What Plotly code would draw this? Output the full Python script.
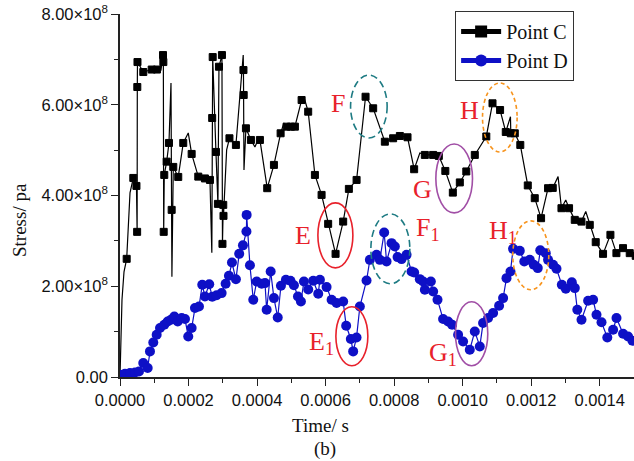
import plotly.graph_objects as go

# Point C: time (microseconds), stress (MPa); flag = 1 where a symbol is drawn
c_time_us = [0, 5.8, 11.7, 19.5, 29.2, 38.8, 48.0, 50.0, 50.5, 51.0,
             68.0, 92.5, 107.9, 119.6, 125.5, 126.5, 127.5, 129.2, 136.2, 142.9,
             148.8, 150.8, 151.5, 155.5, 170.0, 184.6, 199.2, 209.1, 228.4, 247.9,
             262.5, 268.0, 269.0, 270.5, 280.0, 285.8, 288.8, 297.5, 299.0, 301.3,
             302.0, 311.2, 319.4, 338.3, 359.6, 360.3, 361.0, 361.8, 367.5, 382.1,
             393.8, 402.5, 408.3, 429.6, 449.2, 468.7, 478.3, 486.2, 498.8, 510.4,
             530.0, 536.7, 549.2, 568.8, 588.3, 607.5, 629.1, 651.3, 667.9, 690.4,
             716.6, 738.8, 772.9, 797.1, 816.7, 839.1, 858.4, 875.0, 889.6, 913.8,
             930.4, 949.4, 971.3, 991.7, 1010.6, 1035.4, 1069.0, 1087.1, 1109.2, 1125.8,
             1139.5, 1140.5, 1152.1, 1168.2, 1190.0, 1210.4, 1228.8, 1249.2, 1262.9, 1278.4,
             1288.3, 1300.8, 1310.5, 1327.1, 1346.6, 1359.2, 1370.9, 1388.3, 1409.7, 1431.2,
             1448.7, 1468.0, 1487.5, 1505.0]
c_stress_mpa = [0, 170.2, 231.8, 260.4, 405.7, 438.7, 421.1, 319.9, 639.1, 694.1,
                672.1, 677.6, 677.6, 676.5, 709.5, 694.1, 319.9, 445.3, 474.6, 515.8,
                647.9, 368.3, 220.8, 463.0, 440.9, 515.8, 537.8, 491.6, 441.6, 437.6,
                434.3, 273.6, 570.8, 705.1, 496.0, 381.5, 683.8, 709.5, 293.4, 379.3,
                355.1, 500.4, 526.1, 511.4, 709.5, 676.5, 621.5, 456.3, 548.1, 522.4,
                507.0, 522.4, 522.4, 416.1, 467.4, 537.1, 559.8, 551.7, 551.7, 551.7,
                610.4, 617.1, 584.7, 445.3, 401.3, 337.5, 271.4, 342.5, 414.5, 434.3,
                617.7, 592.2, 518.6, 526.1, 531.2, 528.3, 457.9, 493.8, 489.4, 489.4,
                487.2, 454.1, 406.4, 428.8, 453.0, 489.4, 530.1, 603.2, 588.4, 540.0,
                573.7, 537.1, 537.1, 511.4, 422.2, 394.1, 350.0, 416.1, 416.7, 441.6,
                372.0, 390.3, 372.0, 346.3, 342.5, 364.6, 335.3, 297.2, 271.4, 313.3,
                273.0, 284.0, 273.0, 267.0]
c_marked = [0, 0, 0, 1, 0, 1, 1, 1, 1, 1,
            1, 1, 1, 0, 1, 1, 1, 1, 1, 1,
            0, 1, 0, 1, 1, 1, 0, 1, 1, 1,
            1, 0, 1, 1, 1, 1, 1, 1, 1, 1,
            1, 0, 1, 1, 0, 1, 1, 0, 1, 1,
            0, 0, 1, 1, 1, 1, 0, 1, 1, 1,
            1, 0, 1, 1, 1, 1, 1, 1, 1, 1,
            1, 1, 1, 1, 1, 1, 1, 0, 1, 1,
            1, 1, 1, 1, 1, 1, 1, 1, 1, 1,
            0, 1, 1, 1, 1, 1, 1, 1, 1, 0,
            1, 0, 1, 1, 1, 0, 1, 1, 1, 1,
            1, 1, 1, 1]

# Point D: time (microseconds), stress (MPa)
d_time_us = [0, 14.6, 29.2, 43.8, 55.4, 67.9, 80.8, 87.5, 97.1, 107.0,
             116.7, 129.2, 139.1, 148.8, 158.5, 168.4, 180.1, 189.6, 199.2, 209.1,
             218.8, 230.5, 240.1, 247.9, 260.4, 269.2, 282.0, 296.6, 308.3, 317.9,
             326.7, 338.3, 347.9, 358.8, 369.0, 369.6, 379.2, 388.9, 398.8, 413.4,
             423.1, 428.0, 439.7, 449.2, 460.3, 469.7, 484.2, 497.4, 507.6, 519.3,
             528.0, 536.8, 549.3, 563.9, 578.5, 583.4, 602.9, 617.5, 632.1, 651.3,
             660.0, 673.7, 680.4, 690.3, 700.0, 719.5, 729.2, 748.7, 758.3, 770.9,
             777.9, 792.5, 802.1, 810.0, 821.7, 836.3, 850.8, 858.4, 875.0, 884.6,
             889.6, 907.1, 913.8, 926.6, 942.9, 957.5, 969.2, 986.7, 1001.2, 1020.8,
             1035.4, 1050.0, 1059.6, 1074.2, 1088.8, 1106.3, 1118.0, 1127.9, 1139.5, 1147.1,
             1166.7, 1179.8, 1195.9, 1207.5, 1219.2, 1226.5, 1242.5, 1249.2, 1263.8, 1273.8,
             1289.4, 1301.0, 1318.5, 1327.3, 1334.6, 1346.8, 1366.1, 1380.7, 1390.6, 1405.2,
             1422.1, 1439.0, 1448.9, 1468.1, 1482.7, 1495.5]
d_stress_mpa = [5.1, 7.3, 8.8, 10.1, 12.3, 30.8, 19.8, 56.4, 76.2, 93.1,
                107.9, 115.1, 122.4, 126.1, 133.4, 122.4, 129.9, 127.7, 89.4, 107.9,
                151.9, 155.4, 203.2, 177.5, 204.3, 176.8, 180.1, 184.9, 205.4, 223.0,
                252.3, 215.3, 271.4, 290.1, 320.5, 357.3, 246.1, 170.2, 210.5, 205.4,
                206.9, 148.2, 232.5, 173.9, 131.0, 201.0, 214.2, 212.0, 202.1, 177.4,
                166.4, 210.5, 192.8, 212.0, 183.4, 214.2, 198.1, 170.2, 162.9, 166.4,
                112.9, 83.7, 56.4, 87.2, 155.4, 212.7, 258.2, 269.2, 258.2, 318.3,
                254.5, 295.0, 287.5, 264.2, 259.8, 269.2, 232.5, 230.3, 215.7, 210.5,
                192.2, 210.5, 188.4, 170.2, 127.7, 122.4, 115.1, 93.1, 78.4, 60.1,
                100.4, 67.4, 118.9, 129.9, 140.9, 157.0, 173.9, 217.9, 232.5, 282.4,
                278.0, 254.5, 258.2, 247.2, 240.0, 279.1, 273.0, 258.2, 247.2, 238.4,
                203.2, 194.4, 208.7, 195.9, 148.2, 126.1, 168.0, 170.2, 137.1, 120.6,
                87.2, 104.1, 129.9, 95.3, 89.4, 79.9]

x_tick_vals = [0, 0.0002, 0.0004, 0.0006, 0.0008, 0.0010, 0.0012, 0.0014]
x_tick_text = ["0.0000", "0.0002", "0.0004", "0.0006", "0.0008", "0.0010", "0.0012", "0.0014"]
y_tick_vals = [0, 2e8, 4e8, 6e8, 8e8]
y_tick_text = ["0.00", "2.00×10<sup>8</sup>", "4.00×10<sup>8</sup>",
               "6.00×10<sup>8</sup>", "8.00×10<sup>8</sup>"]

# Highlighted regions: label, label position, ellipse bounds (µs, MPa), colour, dash
regions = [
    ("E", 534.6, 311.1, "center", (577.5, 679.6, 240.6, 383.7), "#e8212b", "solid"),
    ("F", 637.3, 602.7, "center", (672.9, 779.6, 526.8, 665.5), "#1e7b83", "7px,4px"),
    ("G", 883.8, 412.3, "center", (921.7, 1028.7, 361.7, 513.6), "#a14fa6", "solid"),
    ("H", 1020.8, 588.4, "center", (1057.9, 1158.9, 496.0, 647.9), "#f7941e", "4px,3px"),
    ("E<sub>1</sub>", 546.0, 75.5, "left", (630.0, 723.3, 24.9, 154.8), "#e8212b", "solid"),
    ("F<sub>1</sub>", 858.0, 325.4, "left", (732.1, 845.8, 205.4, 359.5), "#1e7b83", "7px,4px"),
    ("G<sub>1</sub>", 896.0, 51.3, "left", (979.1, 1073.3, 24.9, 165.8), "#a14fa6", "solid"),
    ("H<sub>1</sub>", 1071.0, 319.9, "left", (1146.3, 1251.3, 192.2, 344.1), "#f7941e", "4px,3px"),
]

US = 1e-6
MPA = 1e6
c_x = [t * US for t in c_time_us]
c_y = [s * MPA for s in c_stress_mpa]
d_x = [t * US for t in d_time_us]
d_y = [s * MPA for s in d_stress_mpa]

BLUE = "#0e10c6"
serif = "Liberation Serif"
sans = "Liberation Sans"

fig = go.Figure()
fig.add_trace(go.Scatter(
    x=c_x, y=c_y, mode="lines+markers", showlegend=False,
    line=dict(color="black", width=1.2),
    marker=dict(symbol="square", color="black", opacity=1,
                size=[7 if m else 0 for m in c_marked],
                line=dict(width=[1 if m else 0 for m in c_marked], color="black")),
))
fig.add_trace(go.Scatter(
    x=d_x, y=d_y, mode="lines+markers", showlegend=False,
    line=dict(color=BLUE, width=1.2),
    marker=dict(symbol="circle", color=BLUE, size=10, opacity=1, line=dict(width=0)),
))
# legend entries
fig.add_trace(go.Scatter(x=[None], y=[None], mode="lines+markers", name="Point C",
                         line=dict(color="black", width=1.2),
                         marker=dict(symbol="square", color="black", size=8)))
fig.add_trace(go.Scatter(x=[None], y=[None], mode="lines+markers", name="Point D",
                         line=dict(color=BLUE, width=1.2),
                         marker=dict(symbol="circle", color=BLUE, size=9)))

shapes = []
annotations = []
for label, lx, ly, anchor, (x0, x1, y0, y1), col, dash in regions:
    shapes.append(dict(type="circle", xref="x", yref="y",
                       x0=x0 * US, x1=x1 * US, y0=y0 * MPA, y1=y1 * MPA,
                       line=dict(color=col, width=1.6, dash=dash)))
    annotations.append(dict(text=label, x=lx * US, y=ly * MPA, xref="x", yref="y",
                            xanchor=anchor, yanchor="middle", showarrow=False,
                            font=dict(family=serif, size=26, color="#e8212b")))

annotations += [
    dict(text="Stress/ pa", x=-0.1965, y=0.4325, xref="paper", yref="paper",
         textangle=-90, showarrow=False, xanchor="center", yanchor="middle",
         font=dict(family=serif, size=19, color="#111")),
    dict(text="Time/ s", x=0.391, y=-0.1336, xref="paper", yref="paper",
         showarrow=False, xanchor="center", yanchor="middle",
         font=dict(family=serif, size=19, color="#111")),
    dict(text="(b)", x=0.399, y=-0.198, xref="paper", yref="paper",
         showarrow=False, xanchor="center", yanchor="middle",
         font=dict(family=serif, size=19, color="#111")),
]

axis_common = dict(showline=True, linecolor="#222", linewidth=1.5, showgrid=False,
                   zeroline=False, ticks="outside", ticklen=7, tickwidth=1.3,
                   tickcolor="#222", tickfont=dict(family=sans, size=16.5, color="#111"))

fig.update_layout(
    width=634, height=461,
    margin=dict(l=120, r=0, t=14, b=84),
    paper_bgcolor="white", plot_bgcolor="white",
    xaxis=dict(range=[0, 0.0015], tickvals=x_tick_vals, ticktext=x_tick_text,
               minor=dict(dtick=0.0001, ticklen=4, tickwidth=1.3, tickcolor="#222",
                          ticks="outside"),
               **axis_common),
    yaxis=dict(range=[0, 8e8], tickvals=y_tick_vals, ticktext=y_tick_text,
               minor=dict(dtick=1e8, ticklen=4, tickwidth=1.3, tickcolor="#222",
                          ticks="outside"),
               **axis_common),
    legend=dict(x=0.652, y=1.008, xanchor="left", yanchor="top",
                bordercolor="#333", borderwidth=1, bgcolor="white",
                font=dict(family=serif, size=20, color="#111"),
                itemsizing="constant", tracegroupgap=0, itemwidth=40),
    shapes=shapes,
    annotations=annotations,
)

fig.write_html("out.html")
